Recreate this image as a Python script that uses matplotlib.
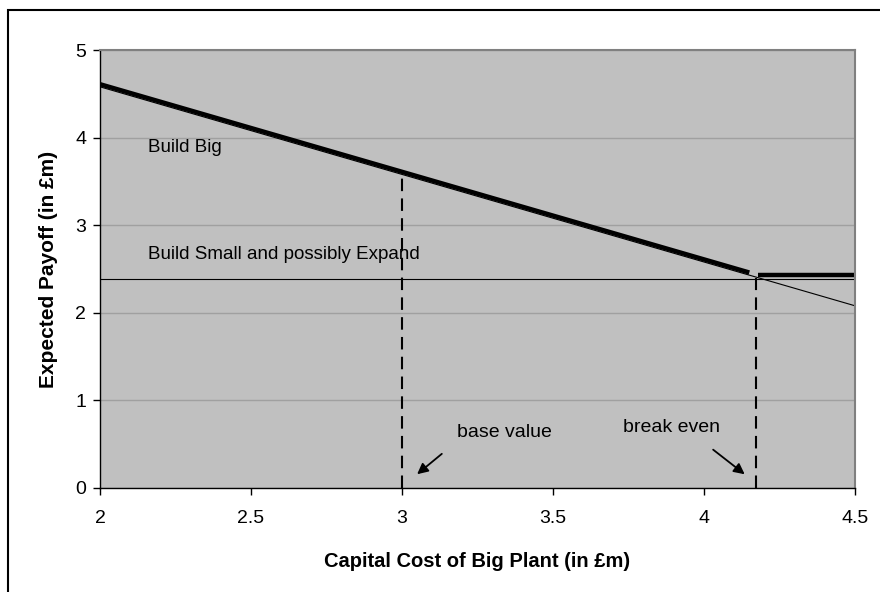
import matplotlib.pyplot as plt
from matplotlib.patches import Rectangle

plt.rcParams['font.family'] = ['Liberation Sans', 'DejaVu Sans']

# Capital cost of the big plant (in £m)
cost = [2.0, 4.5]
# Expected payoff of each strategy (in £m)
build_big = [4.58, 2.08]
build_small = [2.39, 2.39]

# Best strategy payoff, drawn in two pieces around the break-even point
best_cost_big = [2.0, 4.15]
best_big = [4.61, 2.46]
best_cost_small = [4.18, 4.5]
best_small = [2.43, 2.43]

# Reference lines: base value and break-even cost
base_cost = 3.0
base_payoff = 3.62
breakeven_cost = 4.172
breakeven_payoff = 2.40

fig = plt.figure(figsize=(8.8, 5.92), dpi=100)
ax = fig.add_axes([0.1136, 0.1757, 0.858, 0.7398])
ax.set_facecolor('#C0C0C0')

ax.plot(cost, build_big, color='black', lw=0.8)
ax.plot(cost, build_small, color='black', lw=0.8)
ax.plot(best_cost_big, best_big, color='black', lw=3.2, solid_capstyle='butt')
ax.plot(best_cost_small, best_small, color='black', lw=3.2, solid_capstyle='butt')

ax.plot([base_cost, base_cost], [0, base_payoff], color='black', lw=1.5,
        dashes=(6, 3.5))
ax.plot([breakeven_cost, breakeven_cost], [0, breakeven_payoff], color='black',
        lw=1.5, dashes=(6, 3.5))

ax.text(2.16, 3.89, 'Build Big', fontsize=13.5, va='center', ha='left')
ax.text(2.16, 2.66, 'Build Small and possibly Expand', fontsize=13.5,
        va='center', ha='left')
ax.text(3.182, 0.63, 'base value', fontsize=14, va='center', ha='left')
ax.text(4.053, 0.685, 'break even', fontsize=14, va='center', ha='right')

ax.annotate('', xy=(3.043, 0.137), xytext=(3.139, 0.41),
            arrowprops=dict(arrowstyle='-|>', color='black', lw=1.3,
                            mutation_scale=16))
ax.annotate('', xy=(4.142, 0.137), xytext=(4.023, 0.457),
            arrowprops=dict(arrowstyle='-|>', color='black', lw=1.3,
                            mutation_scale=16))

ax.set_xlim(2, 4.5)
ax.set_ylim(0, 5)
ax.set_xticks([2, 2.5, 3, 3.5, 4, 4.5])
ax.set_xticklabels(['2', '2.5', '3', '3.5', '4', '4.5'])
ax.set_yticks([0, 1, 2, 3, 4, 5])
ax.yaxis.grid(True, color='#A0A0A0', lw=1)
ax.set_axisbelow(True)
ax.tick_params(direction='out', length=5, width=1, labelsize=14)
ax.tick_params(axis='x', pad=11)
ax.tick_params(axis='y', pad=5)

for side in ['top', 'right']:
    ax.spines[side].set_color('#808080')
    ax.spines[side].set_linewidth(1.5)
for side in ['left', 'bottom']:
    ax.spines[side].set_color('black')
    ax.spines[side].set_linewidth(1)

ax.set_xlabel('Capital Cost of Big Plant (in £m)', fontsize=14.5,
              fontweight='bold', labelpad=18)
ax.set_ylabel('Expected Payoff (in £m)', fontsize=15, fontweight='bold',
              labelpad=12)

# Outer frame round the chart
fig.patches.append(Rectangle((8 / 880, -0.1), 1.2, (592 - 10) / 592 + 0.1,
                             transform=fig.transFigure, fill=False,
                             edgecolor='black', lw=1.5))

fig.savefig('out.png', dpi=100)
